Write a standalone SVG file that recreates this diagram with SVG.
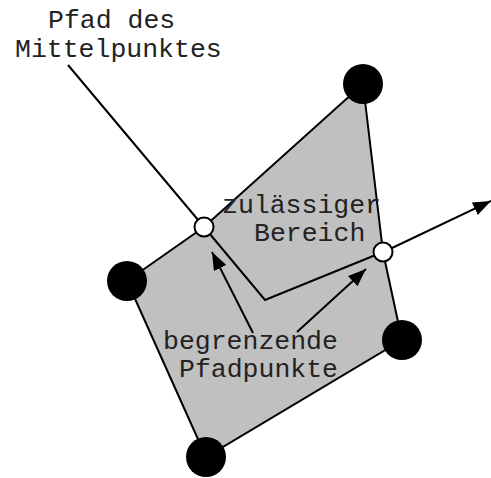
<svg xmlns="http://www.w3.org/2000/svg" width="491" height="478" viewBox="0 0 491 478">
<style>
.edge{fill:#c0c0c0;stroke:#000;stroke-width:2;stroke-linejoin:miter}
.ln{fill:none;stroke:#000;stroke-width:2}
.dot{fill:#000}
.open{fill:#fff;stroke:#000;stroke-width:2}
.t{font-family:"Liberation Mono","Courier New",monospace;font-size:26.5px;fill:#222}
</style>
<defs>
<marker id="ah" markerUnits="userSpaceOnUse" markerWidth="20" markerHeight="16" refX="18" refY="7" orient="auto">
<path d="M0,0 L18,7 L0,14 Z" fill="#000"/>
</marker>
</defs>
<g id="region">
<polygon class="edge" points="127,281 204,227 363,84 383,252 402,340 206,457"/>
</g>
<g id="connectors">
<polyline class="ln" points="68,65 204,227 265,300 383,252"/>
<line class="ln" x1="392" y1="248" x2="491" y2="201" marker-end="url(#ah)"/>
<line class="ln" x1="253" y1="333" x2="212" y2="252" marker-end="url(#ah)"/>
<line class="ln" x1="297" y1="332" x2="366" y2="269" marker-end="url(#ah)"/>
</g>
<g id="vertex-top"><circle class="dot" cx="363" cy="84" r="20"/></g>
<g id="vertex-left"><circle class="dot" cx="127" cy="281" r="20"/></g>
<g id="vertex-right"><circle class="dot" cx="402" cy="340" r="20"/></g>
<g id="vertex-bottom"><circle class="dot" cx="206" cy="457" r="20"/></g>
<g id="limit-1"><circle class="open" cx="204" cy="227" r="9.5"/></g>
<g id="limit-2"><circle class="open" cx="383" cy="252" r="9.5"/></g>
<g id="label-path">
<text class="t" x="48" y="28">Pfad des</text>
<text class="t" x="15" y="57">Mittelpunktes</text>
</g>
<g id="label-region">
<text class="t" x="222" y="213">zulässiger</text>
<text class="t" x="254" y="241">Bereich</text>
</g>
<g id="label-points">
<text class="t" x="163" y="349">begrenzende</text>
<text class="t" x="179" y="377">Pfadpunkte</text>
</g>
</svg>
